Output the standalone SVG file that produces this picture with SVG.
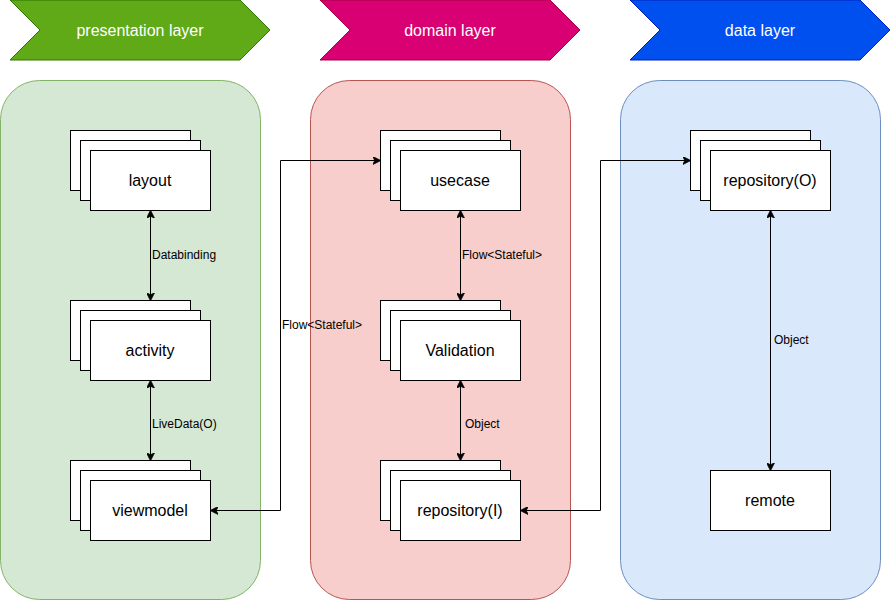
<svg xmlns="http://www.w3.org/2000/svg" width="891" height="601" viewBox="0 0 891 601">
<style>
.lbl{font-family:"Liberation Sans",Arial,sans-serif;font-size:16px;fill:#000;text-anchor:middle;dominant-baseline:central}
.ban{font-family:"Liberation Sans",Arial,sans-serif;font-size:16px;fill:#fff;text-anchor:middle;dominant-baseline:central}
.el{font-family:"Liberation Sans",Arial,sans-serif;font-size:12px;fill:#000;dominant-baseline:central}
.box{fill:#fff;stroke:#000;stroke-width:1}
.edge{fill:none;stroke:#000;stroke-width:1;marker-start:url(#ah);marker-end:url(#ah)}
</style>
<defs>
<marker id="ah" viewBox="0 0 10 10" refX="9" refY="5" markerWidth="8" markerHeight="8" markerUnits="userSpaceOnUse" orient="auto-start-reverse">
<path d="M0,0 L10,5 L0,10 L2.5,5 Z" fill="#000" stroke="#000" stroke-width="1"/>
</marker>
</defs>
<rect width="891" height="601" fill="#fff"/>
<g id="banner-presentation">
<polygon points="10,0 240,0 270,30 240,60 10,60 40,30" fill="#60a917" stroke="#2d7600"/>
<text class="ban" x="140" y="30">presentation layer</text>
</g>
<g id="banner-domain">
<polygon points="320,0 550,0 580,30 550,60 320,60 350,30" fill="#d80073" stroke="#a50040"/>
<text class="ban" x="450" y="30">domain layer</text>
</g>
<g id="banner-data">
<polygon points="630,0 860,0 890,30 860,60 630,60 660,30" fill="#0050ef" stroke="#001dbc"/>
<text class="ban" x="760" y="30">data layer</text>
</g>
<g id="panel-presentation"><rect x="0.5" y="80.5" width="260" height="519" rx="39" fill="#d5e8d4" stroke="#82b366"/></g>
<g id="panel-domain"><rect x="310.5" y="80.5" width="260" height="519" rx="39" fill="#f8cecc" stroke="#b85450"/></g>
<g id="panel-data"><rect x="620.5" y="80.5" width="260" height="519" rx="39" fill="#dae8fc" stroke="#6c8ebf"/></g>

<g id="node-layout">
<rect class="box" x="70.5" y="130.5" width="120" height="60"/>
<rect class="box" x="80.5" y="140.5" width="120" height="60"/>
<rect class="box" x="90.5" y="150.5" width="120" height="60"/>
<text class="lbl" x="150" y="180">layout</text>
</g>
<g id="node-activity">
<rect class="box" x="70.5" y="300.5" width="120" height="60"/>
<rect class="box" x="80.5" y="310.5" width="120" height="60"/>
<rect class="box" x="90.5" y="320.5" width="120" height="60"/>
<text class="lbl" x="150" y="350">activity</text>
</g>
<g id="node-viewmodel">
<rect class="box" x="70.5" y="460.5" width="120" height="60"/>
<rect class="box" x="80.5" y="470.5" width="120" height="60"/>
<rect class="box" x="90.5" y="480.5" width="120" height="60"/>
<text class="lbl" x="150" y="510">viewmodel</text>
</g>
<g id="node-usecase">
<rect class="box" x="380.5" y="130.5" width="120" height="60"/>
<rect class="box" x="390.5" y="140.5" width="120" height="60"/>
<rect class="box" x="400.5" y="150.5" width="120" height="60"/>
<text class="lbl" x="460" y="180">usecase</text>
</g>
<g id="node-validation">
<rect class="box" x="380.5" y="300.5" width="120" height="60"/>
<rect class="box" x="390.5" y="310.5" width="120" height="60"/>
<rect class="box" x="400.5" y="320.5" width="120" height="60"/>
<text class="lbl" x="460" y="350">Validation</text>
</g>
<g id="node-repository-i">
<rect class="box" x="380.5" y="460.5" width="120" height="60"/>
<rect class="box" x="390.5" y="470.5" width="120" height="60"/>
<rect class="box" x="400.5" y="480.5" width="120" height="60"/>
<text class="lbl" x="460" y="510">repository(I)</text>
</g>
<g id="node-repository-o">
<rect class="box" x="690.5" y="130.5" width="120" height="60"/>
<rect class="box" x="700.5" y="140.5" width="120" height="60"/>
<rect class="box" x="710.5" y="150.5" width="120" height="60"/>
<text class="lbl" x="770" y="180">repository(O)</text>
</g>
<g id="node-remote">
<rect class="box" x="710.5" y="470.5" width="120" height="60"/>
<text class="lbl" x="770" y="500">remote</text>
</g>

<g id="connectors">
<path class="edge" d="M150.5,211 L150.5,300"/>
<text class="el" x="152" y="255">Databinding</text>
<path class="edge" d="M150.5,381 L150.5,460"/>
<text class="el" x="152" y="424">LiveData(O)</text>
<path class="edge" d="M211,510.5 L280.5,510.5 L280.5,160.5 L380,160.5"/>
<text class="el" x="282" y="325">Flow&lt;Stateful&gt;</text>
<path class="edge" d="M460.5,211 L460.5,300"/>
<text class="el" x="462" y="255">Flow&lt;Stateful&gt;</text>
<path class="edge" d="M460.5,381 L460.5,460"/>
<text class="el" x="465" y="424">Object</text>
<path class="edge" d="M521,510.5 L600.5,510.5 L600.5,160.5 L690,160.5"/>
<path class="edge" d="M770.5,211 L770.5,470"/>
<text class="el" x="774" y="340">Object</text>
</g>
</svg>
